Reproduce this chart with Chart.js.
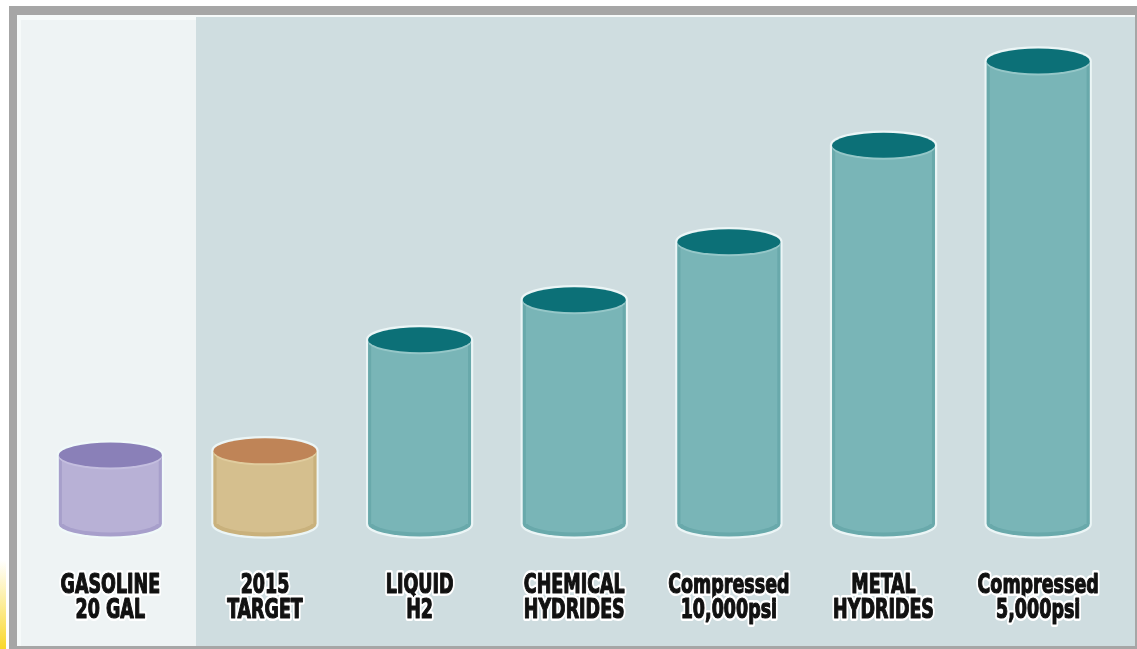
<!DOCTYPE html>
<html>
<head>
<meta charset="utf-8">
<script src="https://cdn.jsdelivr.net/npm/chart.js@4.4.1/dist/chart.umd.min.js"></script>
<style>
  html, body { margin: 0; padding: 0; background: #fff; }
  #wrap { width: 1137px; height: 649px; position: relative; }
</style>
</head>
<body>
<div id="wrap"><canvas id="tankChart"></canvas></div>
<script>
// tank volume needed for the same range, relative to a 20 gallon gasoline tank
var tanks = [['GASOLINE', '20 GAL'], ['2015', 'TARGET'], ['LIQUID', 'H2'], ['CHEMICAL', 'HYDRIDES'], ['Compressed', '10,000psi'], ['METAL', 'HYDRIDES'], ['Compressed', '5,000psi']]
var volume = [1.0, 1.06, 2.67, 3.25, 4.09, 5.49, 6.71]
var volumeMax = 7

var bodyColors = ['#b8b1d6', '#d5bf8e', '#79b5b7', '#79b5b7', '#79b5b7', '#79b5b7', '#79b5b7']
var capColors = ['#8a80b8', '#bf8457', '#0c7077', '#0c7077', '#0c7077', '#0c7077', '#0c7077']
var edgeColors = ['#a79fcb', '#c9b17c', '#69a9ab', '#69a9ab', '#69a9ab', '#69a9ab', '#69a9ab']
var rimColors = ['#c4bedf', '#e0cc9e', '#95c7c8', '#95c7c8', '#95c7c8', '#95c7c8', '#95c7c8']

const RY = 12.5

// frame and the two background panels
const frame = {
  id: 'frame',
  beforeDraw(chart) {
    const c = chart.ctx
    c.save()
    c.fillStyle = '#ffffff'
    c.fillRect(0, 0, chart.width, chart.height)
    let g = c.createLinearGradient(0, 560, 0, 649)
    g.addColorStop(0, 'rgba(250,220,60,0)')
    g.addColorStop(1, 'rgba(250,215,40,1)')
    c.fillStyle = g
    c.fillRect(0, 560, 6, 89)
    c.fillStyle = '#a6a6a6'
    c.fillRect(9, 6, 1128, 643)
    c.fillStyle = '#f6fafa'
    c.fillRect(17, 15, 1118, 631)
    c.fillStyle = '#eef3f4'
    c.fillRect(21, 20, 175, 626)
    c.fillStyle = '#cfdde0'
    c.fillRect(196, 17, 939, 629)
    c.restore()
  }
}

function cylinderPath(c, p, rx) {
  c.beginPath()
  c.ellipse(p.x, p.y, rx, RY, 0, Math.PI, 2 * Math.PI)
  c.lineTo(p.x + rx, p.base)
  c.ellipse(p.x, p.base, rx, RY, 0, 0, Math.PI)
  c.closePath()
}

// turns the plain bars into cylinders
const cylinders = {
  id: 'cylinders',
  beforeDatasetsDraw(chart) {
    const c = chart.ctx
    chart.getDatasetMeta(0).data.forEach((bar) => {
      const p = bar.getProps(['x', 'y', 'base', 'width'], true)
      c.save()
      cylinderPath(c, p, p.width / 2)
      c.strokeStyle = 'rgba(240,249,249,0.85)'
      c.lineWidth = 4.5
      c.stroke()
      c.restore()
    })
  },
  afterDatasetsDraw(chart) {
    const c = chart.ctx
    chart.getDatasetMeta(0).data.forEach((bar, i) => {
      const p = bar.getProps(['x', 'y', 'base', 'width'], true)
      const rx = p.width / 2
      c.save()
      // rounded bottom
      c.fillStyle = edgeColors[i]
      c.beginPath()
      c.ellipse(p.x, p.base, rx, RY, 0, 0, Math.PI)
      c.fill()
      c.fillStyle = bodyColors[i]
      c.beginPath()
      c.ellipse(p.x, p.base - 3, rx - 3, RY - 1, 0, 0, Math.PI)
      c.fill()
      // darker side edges
      c.fillStyle = edgeColors[i]
      c.fillRect(p.x - rx, p.y, 3, p.base - p.y)
      c.fillRect(p.x + rx - 3, p.y, 3, p.base - p.y)
      // lid
      c.fillStyle = rimColors[i]
      c.beginPath()
      c.ellipse(p.x, p.y + 2, rx, RY, 0, 0, 2 * Math.PI)
      c.fill()
      c.fillStyle = capColors[i]
      c.beginPath()
      c.ellipse(p.x, p.y, rx, RY, 0, 0, 2 * Math.PI)
      c.fill()
      c.restore()
    })
  }
}

// category names under each tank, squeezed heavy type with a white halo
const tankLabels = {
  id: 'tankLabels',
  afterDraw(chart) {
    const c = chart.ctx
    const xs = chart.scales.x
    const squeeze = 0.72
    c.save()
    c.font = "bold 27px 'DejaVu Sans Condensed', 'DejaVu Sans', sans-serif"
    c.textAlign = 'center'
    c.textBaseline = 'alphabetic'
    c.lineJoin = 'round'
    tanks.forEach((lines, i) => {
      const x = xs.getPixelForValue(i)
      lines.forEach((t, k) => {
        const y = 593 + k * 24.5
        c.save()
        c.translate(x, y)
        c.scale(squeeze, 1)
        c.strokeStyle = '#ffffff'
        c.lineWidth = 6
        c.strokeText(t, 0, 0)
        c.fillStyle = '#111111'
        c.fillText(t, 0, 0)
        c.strokeStyle = '#111111'
        c.lineWidth = 1.2
        c.strokeText(t, 0, 0)
        c.restore()
      })
    })
    c.restore()
  }
}

var ctx = document.getElementById('tankChart').getContext('2d')
new Chart(ctx, {
  type: 'bar',
  data: {
    labels: tanks,
    datasets: [{
      data: volume,
      backgroundColor: bodyColors,
      borderWidth: 0,
      categoryPercentage: 1,
      barPercentage: 0.665
    }]
  },
  options: {
    responsive: true,
    maintainAspectRatio: false,
    animation: false,
    layout: { padding: { left: 33, right: 21.5, top: 41, bottom: 125 } },
    plugins: { legend: { display: false }, tooltip: { enabled: false } },
    scales: {
      y: { display: false, min: 0, max: volumeMax },
      x: { display: false }
    }
  },
  plugins: [frame, cylinders, tankLabels]
})
</script>
</body>
</html>
